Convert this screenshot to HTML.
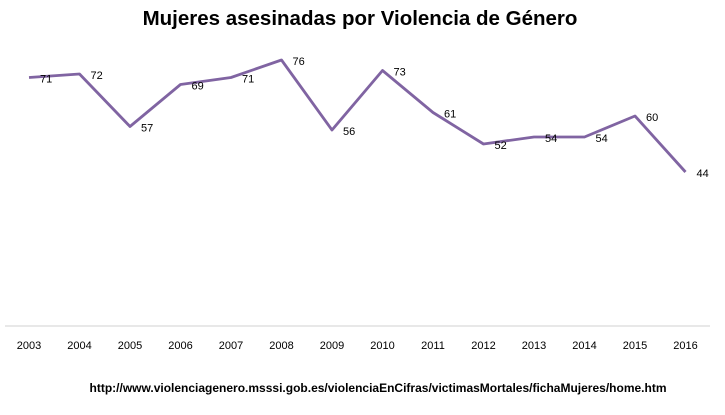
<!DOCTYPE html>
<html><head><meta charset="utf-8"><style>
body{margin:0;background:#fff;}
svg{display:block;font-family:"Liberation Sans",sans-serif;}
</style></head><body>
<svg id="chart" width="725" height="415">
<text x="360" y="25" text-anchor="middle" font-size="20.5" font-weight="bold" fill="#000">Mujeres asesinadas por Violencia de Género</text>
<line x1="5" y1="326" x2="710" y2="326" stroke="#d0d0d0" stroke-width="1"/>
<g id="ticks"></g>
<polyline id="line" fill="none" stroke="#8064a2" stroke-width="2.8" stroke-linejoin="round"/>
<g id="labels"></g>
<text x="378" y="392" text-anchor="middle" font-size="12" font-weight="bold" fill="#000" textLength="577" lengthAdjust="spacingAndGlyphs">http://www.violenciagenero.msssi.gob.es/violenciaEnCifras/victimasMortales/fichaMujeres/home.htm</text>
</svg>
<script>
const years=["2003","2004","2005","2006","2007","2008","2009","2010","2011","2012","2013","2014","2015","2016"];
const values=[71,72,57,69,71,76,56,73,61,52,54,54,60,44];
const NS="http://www.w3.org/2000/svg";
function xs(i){return 29+i*50.5;}
function ys(v){return 326-v*3.5;}
const ticks=document.getElementById('ticks'),labels=document.getElementById('labels');
let pts=[];
years.forEach((y,i)=>{
  const t=document.createElementNS(NS,'text');
  t.setAttribute('x',xs(i));t.setAttribute('y',349);t.setAttribute('text-anchor','middle');
  t.setAttribute('font-size','11');t.textContent=y;
  
  
  ticks.appendChild(t);
  pts.push(xs(i)+','+ys(values[i]));
  const l=document.createElementNS(NS,'text');
  l.setAttribute('x',xs(i)+11);l.setAttribute('y',ys(values[i])+5);
  l.setAttribute('font-size','11');l.textContent=values[i];
  
  
  labels.appendChild(l);
});
document.getElementById('line').setAttribute('points',pts.join(' '));
</script>
</body></html>
